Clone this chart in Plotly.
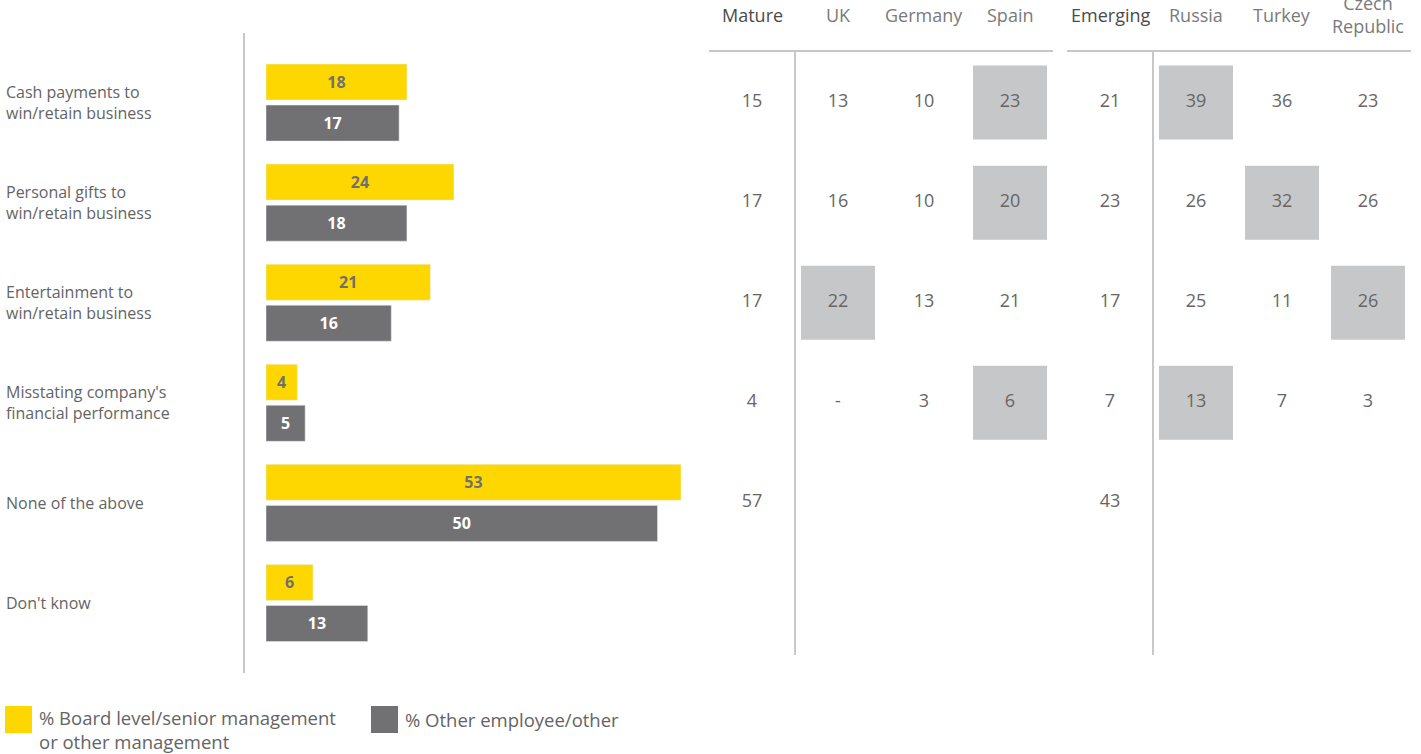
import plotly.graph_objects as go

# categorias (linhas)
categorias = [
    "Cash payments to<br>win/retain business",
    "Personal gifts to<br>win/retain business",
    "Entertainment to<br>win/retain business",
    "Misstating company's<br>financial performance",
    "None of the above",
    "Don't know",
]
board = [18, 24, 21, 4, 53, 6]
outros = [17, 18, 16, 5, 50, 13]

# tabela por pais
colunas_maduros = ["Mature", "UK", "Germany", "Spain"]
colunas_emergentes = ["Emerging", "Russia", "Turkey", "Czech<br>Republic"]
mature = [15, 17, 17, 4, 57]
uk = [13, 16, 22, "-", None]
germany = [10, 10, 13, 3, None]
spain = [23, 20, 21, 6, None]
emerging = [21, 23, 17, 7, 43]
russia = [39, 26, 25, 13, None]
turkey = [36, 32, 11, 7, None]
czech = [23, 26, 26, 3, None]
# celulas destacadas: coluna -> linhas
destaques = {"Spain": [0, 1, 3], "UK": [2], "Russia": [0, 3], "Turkey": [1], "Czech<br>Republic": [2]}

legenda_board = "% Board level/senior management<br>or other management"
legenda_outros = "% Other employee/other"

AMARELO = "#FFD700"
CINZA = "#717174"
TEXTO = "#646464"
LINHA = "#c8c8c8"
FONTE = "Open Sans"
W, H = 1421, 754


def px_x(p):
    return p / W


def px_y(p):
    return 1 - p / H


fig = go.Figure()
fig.add_trace(go.Bar(y=categorias, x=board, orientation="h", marker_color=AMARELO,
                     text=board, textposition="inside", insidetextanchor="middle", textangle=0,
                     textfont=dict(color="#707070", size=16, family=FONTE, weight="bold"),
                     xaxis="x", yaxis="y", hoverinfo="skip"))
fig.add_trace(go.Bar(y=categorias, x=outros, orientation="h", marker_color=CINZA,
                     text=outros, textposition="inside", insidetextanchor="middle", textangle=0,
                     textfont=dict(color="white", size=16, family=FONTE, weight="bold"),
                     xaxis="x", yaxis="y", hoverinfo="skip"))

grupos = [
    (colunas_maduros, [mature, uk, germany, spain], "x2"),
    (colunas_emergentes, [emerging, russia, turkey, czech], "x3"),
]
for nomes, valores, eixo in grupos:
    # caixas cinzas
    bx, by = [], []
    for nome in nomes:
        for r in destaques.get(nome, []):
            bx.append(nome)
            by.append(categorias[r])
    fig.add_trace(go.Scatter(x=bx, y=by, mode="markers", xaxis=eixo, yaxis="y",
                             marker=dict(symbol="square", size=74, color="#c6c7c9", line_width=0),
                             hoverinfo="skip", showlegend=False))
    tx, ty, tt = [], [], []
    for nome, vals in zip(nomes, valores):
        for r, v in enumerate(vals):
            if v is None:
                continue
            tx.append(nome)
            ty.append(categorias[r])
            tt.append(str(v))
    fig.add_trace(go.Scatter(x=tx, y=ty, mode="text", text=tt, xaxis=eixo, yaxis="y",
                             textfont=dict(size=18, color="#666666", family=FONTE),
                             hoverinfo="skip", showlegend=False))
    # cabecalhos
    for nome in nomes:
        destaque = nome in ("Mature", "Emerging")
        fig.add_annotation(x=nome, xref=eixo, y=px_y(15), yref="paper", text=nome,
                           showarrow=False, yanchor="middle",
                           font=dict(size=18, family=FONTE,
                                     color="#4a4a4a" if destaque else "#7a7a7a"))
    # linhas da tabela
    fig.add_shape(type="line", xref=eixo + " domain", x0=0, x1=1, yref="paper",
                  y0=px_y(51), y1=px_y(51), line=dict(color=LINHA, width=2))
    fig.add_shape(type="line", xref=eixo, x0=0.5, x1=0.5, yref="paper",
                  y0=px_y(51), y1=px_y(655), line=dict(color=LINHA, width=2))

# rotulos das categorias
for c in categorias:
    fig.add_annotation(x=px_x(4), xref="paper", y=c, yref="y", text=c, showarrow=False,
                       xanchor="left", align="left", font=dict(size=16, family=FONTE, color=TEXTO))

# linha vertical do grafico de barras
fig.add_shape(type="line", xref="paper", x0=px_x(244), x1=px_x(244), yref="paper",
              y0=px_y(33), y1=px_y(673), line=dict(color=LINHA, width=2))

# legenda
fig.add_shape(type="rect", xref="paper", yref="paper", x0=px_x(5), x1=px_x(32),
              y0=px_y(706), y1=px_y(733), fillcolor=AMARELO, line_width=0)
fig.add_shape(type="rect", xref="paper", yref="paper", x0=px_x(371), x1=px_x(398),
              y0=px_y(706), y1=px_y(733), fillcolor=CINZA, line_width=0)
fig.add_annotation(x=px_x(37), xref="paper", y=px_y(729), yref="paper", text=legenda_board,
                   showarrow=False, xanchor="left", yanchor="middle", align="left",
                   font=dict(size=18.5, family=FONTE, color=TEXTO))
fig.add_annotation(x=px_x(403), xref="paper", y=px_y(719), yref="paper", text=legenda_outros,
                   showarrow=False, xanchor="left", yanchor="middle", align="left",
                   font=dict(size=18.5, family=FONTE, color=TEXTO))

escala = 7.83  # px por ponto percentual
fig.update_layout(
    width=W, height=H, margin=dict(l=0, r=0, t=0, b=0),
    paper_bgcolor="white", plot_bgcolor="white", showlegend=False,
    barmode="group", bargap=0.18, bargroupgap=0.122,
    xaxis=dict(domain=[px_x(266), px_x(705)], range=[0, (705 - 266) / escala], visible=False),
    xaxis2=dict(domain=[px_x(709), px_x(1053)], type="category", categoryarray=colunas_maduros,
                range=[-0.5, 3.5], visible=False),
    xaxis3=dict(domain=[px_x(1067), px_x(1411)], type="category", categoryarray=colunas_emergentes,
                range=[-0.5, 3.5], visible=False),
    yaxis=dict(domain=[px_y(653), px_y(52.5)], type="category", categoryarray=categorias,
               range=[5.5, -0.5], visible=False),
)

# tira a margem padrao do body para o grafico ficar no canto
fig.write_html("out.html", config={"displayModeBar": False},
               post_script="document.body.style.margin='0';")
